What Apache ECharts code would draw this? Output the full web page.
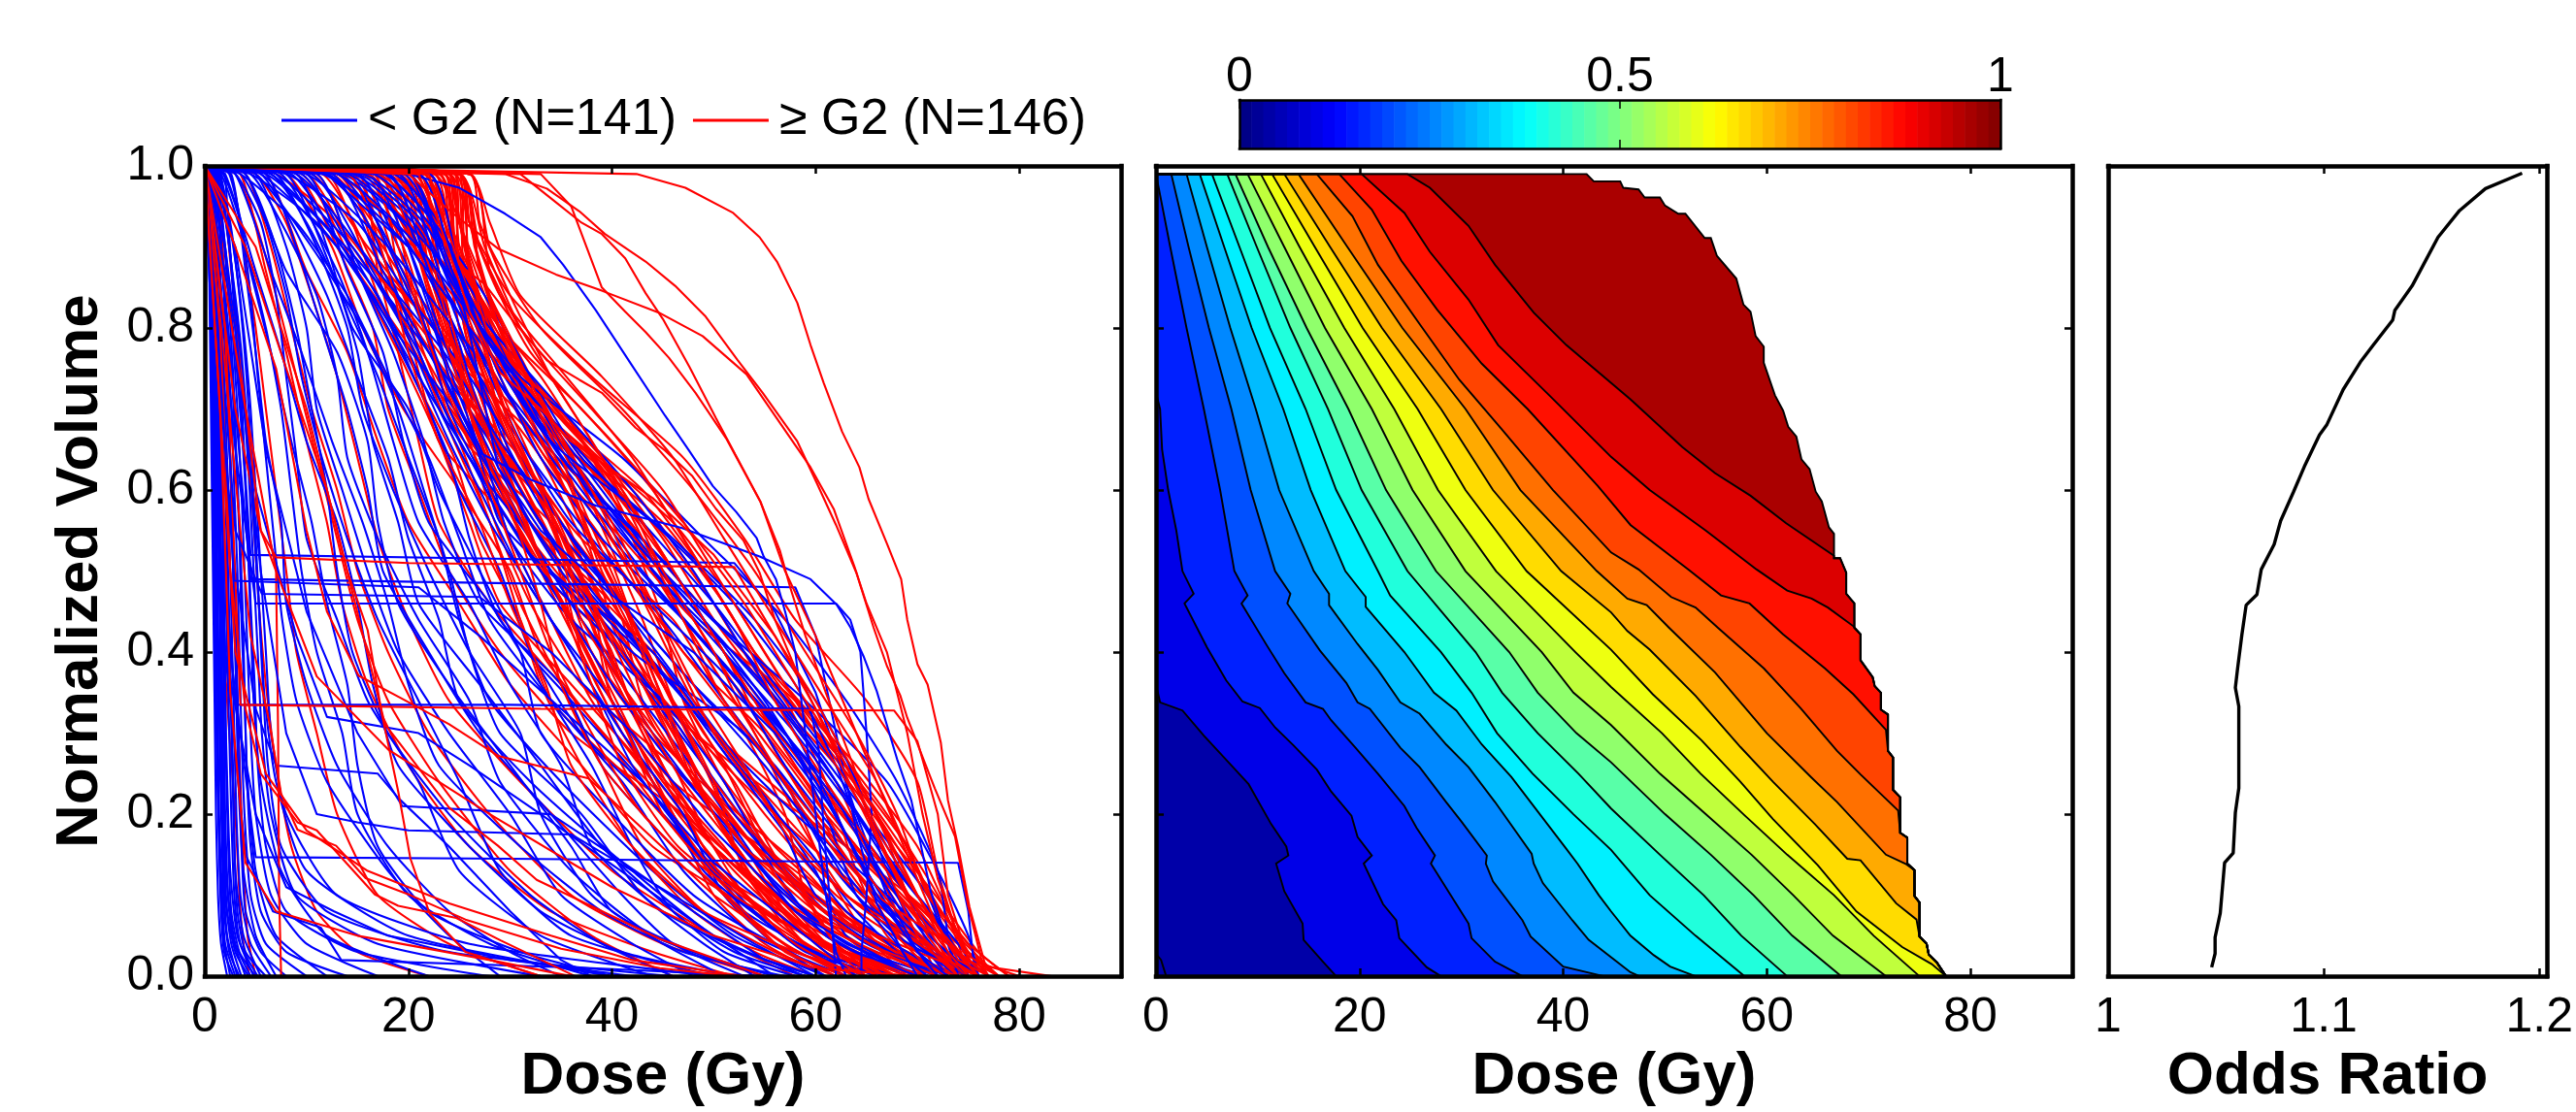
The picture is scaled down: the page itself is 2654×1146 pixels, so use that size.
<!DOCTYPE html>
<html><head><meta charset="utf-8"><style>html,body{margin:0;background:#fff}#c{width:2654px;height:1146px}</style>
<script src="https://cdn.jsdelivr.net/npm/echarts@6/dist/echarts.min.js"></script></head><body><div id="c"></div><script>
const blueName='< G2 (N=141)', redName='\u2265 G2 (N=146)';
// volume levels for the rows below; each row lists the dose at which the curve reaches that level
const volumeLevelsA=[.99,.9,.8,.7,.6,.5,.4,.3,.2,.1,.04,0];
const volumeLevelsB=[.99,.93,.84,.74,.64,.54,.44,.34,.24,.13,.05,0];
const volumeLevelsC=[.99,.87,.77,.66,.56,.46,.36,.26,.16,.08,.03,0];
const blueRows=[
[.2,.4,.5,.6,.7,.8,.9,1,1.1,1.3,1.6,2.2],[.2,.4,.6,.7,.8,.9,1,1.1,1.3,1.5,1.8,2.5],[.3,.5,.6,.8,.9,1,1.1,1.2,1.4,1.6,1.9,2.8],[.3,.5,.7,.8,1,1.1,1.2,1.3,1.4,1.7,2,3],[.3,.6,.8,.9,1,1.2,1.3,1.4,1.6,1.8,2.2,3.2],[.4,.6,.8,1,1.1,1.2,1.4,1.5,1.7,1.9,2.4,3.4],[.4,.7,.9,1.1,1.2,1.4,1.5,1.6,1.8,2,2.6,3.6],[.4,.7,1,1.1,1.3,1.5,1.6,1.7,1.8,2.1,2.7,4],[.5,.8,1,1.2,1.4,1.5,1.7,1.8,1.9,2.2,3,4.3],[.5,.8,1.1,1.3,1.5,1.6,1.8,1.9,2,2.3,3,4.5],[.5,.9,1.2,1.4,1.6,1.8,1.9,2,2.2,2.5,3.2,4.8],[.6,1,1.3,1.5,1.7,1.9,2,2.1,2.3,2.6,3.4,5],[.6,1,1.4,1.6,1.8,2,2.2,2.4,2.6,2.9,3.5,5.2],[.6,1.1,1.5,1.7,2,2.2,2.4,2.6,2.8,3,3.8,5.5],[.7,1.2,1.6,1.9,2.1,2.3,2.5,2.7,2.9,3.2,4,6],[.7,1.3,1.7,2,2.3,2.5,2.7,2.9,3.1,3.5,4.5,6.5],[.8,1.4,1.9,2.2,2.5,2.7,2.9,3.1,3.3,3.8,5,7],[.8,1.5,2,2.4,2.7,3,3.2,3.4,3.6,4,5.5,8],[.9,1.6,2.1,2.6,2.9,3.2,3.4,3.6,3.9,4.5,6,10],[.9,1.7,2.3,2.8,3.1,3.4,3.6,3.9,4.2,5,7,12],[1,1.8,2.5,3,3.4,3.7,3.9,4.1,4.5,5.5,8,14],[1,2,2.7,3.2,3.6,3.9,4.2,4.5,5,6.5,10,17],[1.1,2.1,2.9,3.5,3.9,4.2,4.5,4.8,5.5,7.5,12,22],[1.2,2.2,3,3.7,4.2,4.5,4.9,5.2,6,8,15,28],[1.2,2.4,3.2,3.9,4.4,4.8,5.2,5.6,6.5,9,17,33],[1.3,2.5,3.4,4.1,4.6,5,5.4,5.9,7,10,20,40],[1.4,2.7,3.6,4.3,4.8,5.3,5.7,6.2,7.5,12,24,46],[1.5,2.8,3.8,4.5,5,5.5,6,6.5,8,13,26,50],
[1.8,3.5,4.5,5.2,6,6.8,7.6,9,12,18,24,29],[2.6,4,5,6,7.5,8,10,13,18,24,30,35],[1.6,4,6,7.5,8.5,9.5,11,13.5,15,20,28,38],[3,5.5,7,8,9,10,13,16,21,25,33,44],[2.4,4.5,6.5,8.5,10.5,12,14,15,17,22,31,40],[4,7,9,10.5,12,13,14.5,18,24,32,39,46],[3.5,6,8,9.5,11.5,14,17,21,25,29,36,50],[2,5,7.5,10,13,15,16.5,19,26,33,41,52],[5,8,10,11,13.5,16,19,24,30,35,42,48],[4.5,7.5,11,13,14,17,21,26,29,36,44,55],[3,6.5,9.5,12.5,15.5,18,20,23,31,39,47,57],[6,9,11.5,14,16,17.5,22,27,34,41,46,53],[5.5,8.5,12,15,18,20,23,25,32,42,50,59],[4,8,13,16,17,19,24,30,36,40,48,56],[7,11,14,15.5,18.5,22,26,31,33,38,45,51],[6.5,10,13.5,17,20,23,25,28,35,44,52,61],[8,12.5,15,16.5,19,21,27,33,39,46,51,58],[5,10.5,15.5,19,21.5,24,26,29,37,43,49,54],[3.5,9,14,18,22,25,28,34,41,47,54,63],[7.5,13,16,18.5,21,26,30,35,38,45,53,60],[9,12,14.5,20,23,27,31,33,40,48,56,65],[6,11.5,17,20.5,24,26,29,36,43,50,55,62],[10,14,17.5,19.5,22,28,33,38,42,46,52,59],[8.5,13.5,18,22,25,29,32,37,45,52,58,66],[4.5,11,16.5,21,26,30,34,40,44,49,57,64],[11,15,18.5,21.5,23.5,27,35,39,46,53,60,68],[7,14.5,19.5,23,27,31,36,41,47,51,56,61],[12,16,19,22,26,32,37,43,49,55,62,70],[9.5,15.5,20,24,28,33,38,42,48,54,59,67],[5.5,13,18.5,24.5,29,34,39,44,50,57,63,72],[13,17,20.5,23.5,27.5,30,36,45,51,56,61,69],
[10.5,16.5,21,25,30,35,40,46,53,58,64,71],[14,18,21.5,24,28,33,41,47,52,59,65,73],[8,15,20,26,31,36,42,48,54,60,63,70],[12.5,17.5,22,26.5,29,37,43,49,55,61,67,74],[15,19,22.5,25,29.5,34,44,50,56,60,66,72],[11.5,18.5,23,27,32,38,45,51,57,62,68,75],[6.5,16,22,28,33,39,46,52,58,63,69,73],[16,20,23,26,30,35,42,53,59,64,70,76],[13.5,19.5,24,28.5,34,40,47,54,60,65,69,74],[9,17,23.5,29,35,41,48,55,61,66,71,75],[17,21,24.5,27,31,36,43,50,58,67,72,76],[14.5,20.5,25,30,36,42,49,56,62,68,73,75],[18,22,25,28,32,38,46,52,59,64,68,71],[10,18,24.5,31,37,43,50,57,63,69,72,76],[15.5,21.5,25.5,29,33,39,47,54,61,66,70,74],[19,23,26,29.5,34,41,48,56,62,67,71,73],[12,20,26,32,38,44,51,58,64,70,74,76],[16.5,22,26.5,30.5,35,42,49,55,60,65,69,72],[20,23.5,27,31,36,44,52,57,63,68,72,75],[13,21,27,33,39,45,53,59,65,71,73,76],[17.5,22.5,27.5,32,37,46,54,60,64,67,70,74],[20,24,28,34,40,47,55,61,66,70,74,77],[14,22,28,35,42,48,53,58,62,66,71,75],[18.5,23,26,30,35,43,50,59,67,72,75,76],[19.5,24,28.5,36,43,50,56,62,67,71,74,76],[21,24,27,33,38,46,51,57,61,64,68,70],[15,21,25,31,41,49,57,63,68,72,73,74],[22,25,28,34,44,52,58,62,65,69,72,75]];
const redRows=[
[.5,.7,.9,1,1.2,1.5,1.9,2.4,3,3.4,3.8,4.4],[1,1.6,2,2.3,2.5,2.7,2.9,3.2,3.5,3.8,4.2,5],[1.5,2.6,3.5,4.2,4.8,5.3,6,7,8.5,11,15,22],[2.5,3.8,5,6,7,8,9,11,13,17,24,33],[3,5,7,9,11,13,15,18,23,30,38,46],[3.5,6,8,10,12,13.5,16,20,26,34,44,52],[4,6.5,8.5,10.5,13,15,18,22,28,36,45,55],[5,8,10.5,13,15,17,20,24,31,40,50,58],
[6,10,14,17,20,25,30,37,44,54,60,66],[9,13,16.5,18,21,24,29,36,47,56,64,70],[12,14.5,17,20.5,24.5,27,31,34,42,50,61,69],[15,17,19,21,23,28,35,42,50,57,62,67],[8,12.5,15.5,19.5,25,30,33,39,45,53,59,65],[18,20,22,24,27,30,34,38,44,51,57,63],[11,15,19,23,26,29,36,43,48,55,63,71],[21,22.5,24,26,29,33,37,41,47,52,58,64],[13,16,18,22,27.5,32,38,40,46,58,66,72],[16.5,19,21.5,25,28,31,35,39,43,49,56,62],[10,14.5,20,24.5,29,34,41,47,52,60,67,73],[19,21,23.5,25.5,27,31.5,36,40,45,53,60,68],[14,18,20.5,23,30,35,39,44,51,56,62,66],[22,23.5,25,27.5,30.5,33.5,38,42,46,50,55,61],[7,13,18.5,24,31,36,40,45,49,59,65,74],[17,20,22.5,26,28.5,32,37,46,54,61,68,75],[24,24.5,25.5,28,31,36,42,46,50,55,59,65],[12.5,16.5,21,27,33,37,41,43,48,54,63,70],[20,22,24.5,26.5,32,38,43,47,53,57,61,67],[15.5,19.5,22,24,29.5,34,44,49,55,62,69,76],[23,24,26,29,33,39,42,45,49,56,64,72],[9.5,15,20.5,25.5,34,40,45,50,56,63,67,71],[18.5,21.5,24,28,30,35,38,44,52,60,66,73],[21.5,23,25,27,31,37,46,51,57,61,65,69],[11.5,17,23,28.5,35,41,44,48,54,59,68,74],[16,20.5,23.5,26,32.5,36,39,43,47,55,60,64],[24.5,25,27,30,36,42,47,52,58,64,70,75],[14.5,18.5,22,29,34.5,38,40,46,50,58,62,68],[19.5,22,24,26.5,29,33,41,48,56,65,71,76],[22.5,24,26.5,31,37,43,48,53,59,66,72,77],[13.5,17.5,25,30,35.5,39,46,51,55,60,65,70],[17.5,21,23,27,31.5,35,37,41,46,51,57,63],[20.5,23,25.5,29.5,38,44,49,54,60,67,73,78],[23.5,24.5,26,28.5,32,40,45,49,53,62,69,74],[10.5,16,22.5,30.5,36.5,42,47,55,61,68,72,75],[18,22.5,27,32,39,45,50,56,62,66,70,72],[15,19,21,24.5,28,30.5,33,37,42,48,54,60],[25,25.5,27.5,31.5,40,46,51,57,63,69,74,78],[21,23.5,26,29,33.5,41,48,58,64,70,73,76],[12,19,24,33,41,47,52,59,65,68,71,75],[24,25,28,33,42,48,53,60,66,71,75,77],[16.5,21,25,28,30,34,36,40,45,52,59,66],[19,22,24.5,28,35,39,43,52,63,71,74,76],[22,24.5,28.5,34,43,49,54,61,67,72,74,75],[14,20,26,31,37,43,50,57,61,64,67,72],[23,25,29,35,44,50,55,62,68,73,76,79],[20,23.5,25,27.5,31,36.5,44,50,59,65,69,73],[17,22,26.5,33,38,42,45,47,51,57,66,74],[24.5,25.5,29,36,45,51,56,63,69,72,75,77],[13,20.5,27,35,40,44,49,54,58,63,70,76],[21.5,24,27,30,34,37.5,40,44,48,54,61,68],[25,26,29.5,37,46,52,57,64,70,73,75,78],[18.5,23,27.5,34.5,41,46,51,55,60,68,72,74],[23.5,25,28,32,36,39.5,43,46,50,53,58,65],[16,22,28,36,43,48,53,58,64,70,73,75],[22,24,26,30.5,35.5,41,47,53,57,59,62,67],[25,26,30,38,47,53,58,65,70,72,74,76],[20,23,25,28.5,33,38,41,45,49,55,63,71],[19,24,29,37,44,49,54,60,66,69,71,73],[24,25,27.5,31,35,38.5,42,45,48,54,60,66],
[14,18,20,23,27,30,33.5,36,42,49,58,64],[16,19,21.5,24.5,28,31,34,38,43,51,56,62],[18,20.5,23,25.5,29,32,36,40,44,50,59,67],[17,21.5,24,27,30.5,33,35,39,46,53,57,63],[20,22,24,26,29.5,33.5,37.5,41.5,45,52,61,69],[19,22.5,25,27.5,31,34.5,37,42,47,54,60,65],[21,23,25,28,31.5,35,38,41,46.5,55,63,70],[20.5,23.5,26,29,33,36,40,43,48,53,58,64],[22,24,26,28.5,32,35.5,39,44,49,56,64,71],[21.5,24,26.5,30,34,37,41,45,50,58,66,72],[23,24.5,27,29.5,33,36.5,40.5,44.5,51,59,62,66],[22.5,25,27,31,35,38,42,46,52,57,65,73],[24,25,27.5,30.5,34.5,38,41,47,53,60,67,74],[23.5,25.5,28,32,36,39,43,46.5,50,55,61,68],[25,26,28,31.5,35.5,40,44,48,54,62,69,75],[24.5,26,28.5,33,37,41,45,49,55,61,70,76],[25,26.5,29,33.5,38,42,46,50,56,63,71,74],
[26,27,30,34,39,43,47,51,57,64,68,72],[25,27,30.5,35,40,44,48,53,58,65,72,76],[25,27.5,31,36,41,45,50,54,59,66,73,77],[24,26,29,35.5,42,47,52,56,61,67,70,74],[25,27,30,37,43,48,53,58,63,68,72,75],[25,27,31,38,45,50,55,60,65,69,73,76],[26,28,31,39,46,51,56,61,66,70,74,78],[26,28,32,40,47,53,58,63,67,71,74,77],[26,28,33,41,48,54,59,64,68,71,75,79]];
// curves with a jump, a long plateau or a course off the main band: dose, volume, dose, volume ...
const blueTraces=[
[0,1,2,.99,3,.8,4.5,.52,30,.515,52,.51,56,.45,60,.35,64,.2,67,.1,70,.03,72,0],
[0,1,1.5,.9,3,.7,4.5,.49,30,.485,58,.48,60,.42,62,.3,64,.18,66,.09,69,.02,71,0],
[0,1,1.2,.9,3,.65,5,.46,30,.46,62,.46,63.4,.44,64.4,.4,65,.3,65.5,.2,65,.1,64.5,.03,64.5,0],
[0,1,1,.8,2,.5,3,.335,30,.335,59.5,.33,60.3,.28,60.8,.18,61.5,.08,62,0],
[0,1,.8,.8,2.5,.4,5,.147,30,.145,74,.14,75,.08,75.5,.02,76,0],
[0,1,1,.8,3,.5,5,.33,7,.26,17,.25,19,.22,24,.16,30,.08,35,.02,38,0],
[0,1,2,.9,5,.6,9,.42,12,.32,21,.3,26,.26,33,.2,42,.12,50,.05,56,0],
[0,1,3,.9,6,.65,10,.45,15,.3,19.4,.21,34,.2,40,.15,48,.08,55,.02,60,0],
[0,1,1,.7,2,.4,4,.15,6.7,.08,11.4,.06,13.4,.02,38,.01,55,0],
[0,1,1,.7,2,.4,5,.2,8,.11,12.7,.08,18,.05,30,.02,42,0],
[0,1,1.5,.8,3,.55,5.6,.472,27,.468,34,.4,42,.3,50,.18,58,.08,66,.02,70,0],
[0,1,1.2,.8,2.9,.488,21,.48,27,.42,35,.33,43,.24,50,.14,58,.06,64,0],
[0,1,3,.8,5.5,.5,8,.3,11,.2,15,.19,20,.18,36,.175,46,.1,54,.04,60,0],
[0,1,20,.99,25,.973,29.5,.941,33,.912,35.2,.878,38.4,.822,41.9,.755,45.2,.692,47.6,.648,49.9,.605,52.2,.573,54.2,.541,54.9,.518,56.1,.49,57,.45,58,.4,59,.3,60,.2,61,.1,62,.03,63,0],
[0,1,12,.99,20,.9,24,.75,27.2,.645,32,.613,38.4,.581,46.9,.553,54.5,.518,59.5,.49,62.1,.458,63.4,.431,64.7,.395,66,.352,68,.268,69.4,.217,71.3,.105,73.5,.02,75,0],
[0,1,18,.99,22.4,.934,25,.847,26,.795,28.8,.628,33,.55,40,.47,48,.4,56,.3,62,.2,66,.1,70,.03,73,0]];
const redTraces=[
[0,1,2,.8,3.5,.335,33,.33,67.7,.328,70,.29,72,.2,73,.1,75,.02,78,0],
[0,1,3,.8,5.5,.55,7,.517,20,.51,52,.505,56,.42,60,.33,64,.22,68,.12,71,.05,74,0],
[0,1,1,.9,3,.7,5.5,.55,7,.5,7.2,.3,7.3,.1,7.5,0],
[0,1,2,.75,3.5,.55,4.5,.42,6.3,.316,7.5,.225,9.1,.181,12.9,.161,15.8,.121,20.2,.1,25.6,.07,35,.034,44.7,.01,52,0],
[0,1,1.5,.8,2.5,.5,4,.33,5.5,.25,9.1,.19,11,.18,16.7,.101,19,.087,24.7,.072,29.1,.044,36.4,0],
[0,1,4,.9,8,.75,12,.6,14,.5,16,.427,17.4,.323,19,.228,20.2,.145,22.1,.077,25.6,.03,33,0],
[0,1,3,.9,7,.75,10,.55,12,.45,15.1,.371,19.3,.343,24,.311,28.8,.272,37.7,.244,50,.1,58,.03,65,0],
[0,1,5,.9,10,.7,13,.55,17.7,.311,24,.208,28.8,.161,32.6,.119,44.7,.046,55,0],
[0,1,42.4,.99,47.2,.973,51.9,.942,54.5,.912,56.2,.882,58.2,.831,59.5,.779,60.8,.732,62.6,.672,64.3,.628,65.2,.589,67,.534,68.4,.49,69,.44,70,.385,71,.36,72.3,.288,73,.217,74,.16,75.1,.086,76.7,.012,83.2,0],
[0,1,29.5,.99,33.6,.972,36.8,.944,39.3,.916,43.3,.882,46.2,.852,49.2,.814,52.3,.761,54.8,.72,58.2,.66,60.1,.609,62,.557,64,.498,65.7,.43,67,.383,68.3,.347,69,.319,71.7,.232,73.7,.172,75,.086,76.4,.015,80,0],
[0,1,31,.99,34,.96,37,.93,39,.916,41.3,.886,43.3,.843,45,.811,47.6,.752,50.2,.689,52.1,.644,54.6,.585,56.5,.525,57.5,.48,59,.42,61,.35,64,.25,67,.17,70,.1,73,.03,75,0],
[0,1,33,.99,36,.95,39,.85,41.3,.82,43.3,.795,45.6,.763,48.2,.72,51.2,.664,54.6,.585,57,.5,60,.42,63,.33,66,.24,69,.15,72,.06,76,0],
[0,1,20,.99,24.4,.941,28.8,.898,34.5,.866,39,.846,44.6,.819,48.9,.79,53.2,.743,59.5,.628,61.8,.576,63.8,.506,65,.46,67,.4,69,.3,70.5,.2,72,.12,74.5,.03,78,0],
[0,1,22,.99,25,.878,27.5,.854,30.4,.807,33.6,.76,36.8,.736,39,.72,42.3,.677,45.2,.649,47.9,.617,50.2,.577,52.9,.538,54.5,.498,56,.44,58,.38,60,.33,63,.26,67,.15,70,.08,73,.02,76,0],
[0,1,21,.99,23,.93,26,.82,29,.745,33,.7,36,.66,44,.59,50,.52,56,.42,60,.34,66,.2,70,.1,74,.02,77,0],
[0,1,2,.6,3,.4,6,.25,10,.18,16,.13,24,.09,34,.05,42,.02,53,0],
[0,1,1.5,.7,2.5,.35,4,.14,7,.08,15,.05,28,.02,36,0],
[0,1,4,.7,7,.5,11,.37,18,.28,28,.2,40,.11,50,.05,60,.01,70,0]];
// filled contour outlines on the dose-volume plane, outermost first: dose, volume, dose, volume ...
const regionEdge=[0,.99,42.3,.99,43,.981,45.6,.981,45.9,.973,47.4,.971,48,.961,49.5,.961,50,.951,51.3,.941,52,.941,53.9,.911,54.5,.911,55.1,.889,57,.861,57.7,.829,58.4,.82,58.9,.79,59.7,.777,59.7,.757,60.8,.717,61.6,.698,62.1,.678,62.9,.666,63.4,.638,64.2,.626,64.8,.598,65.4,.586,66.1,.554,66.6,.546,66.6,.516,67.2,.516,67.8,.498,67.8,.472,68.6,.46,68.6,.43,69.2,.422,69.2,.39,70.4,.369,70.6,.358,71.2,.35,71.2,.329,71.9,.323,71.9,.278,72.4,.27,72.4,.23,73.1,.221,73.1,.177,73.8,.171,73.8,.139,74.5,.131,74.5,.099,75,.091,75,.049,75.7,.04,75.9,.027,76.7,.017,77.6,0,83.3,0];
const contourA=[0,.99,24.7,.99,26.9,.973,30.7,.926,33.3,.878,37.1,.819,40.3,.779,46.6,.712,51.7,.653,54.9,.621,58.4,.593,61.9,.559,66.6,.519];
const contourB=[0,.99,20.2,.99,24.4,.942,26.9,.894,30.7,.835,33.6,.779,38.7,.716,44.7,.641,48.5,.6,54,.55,59,.502,62,.476,64.4,.466,66,.455,68.5,.432];
const contourC=[0,.99,18,.99,21.2,.946,24.1,.883,27.6,.823,32,.756,36.5,.7,43.4,.605,46.6,.557,52.3,.502,55.5,.47,58.3,.46,61.6,.422,65.7,.38,68.5,.348,71.7,.304];
const contourD=[0,.99,15.8,.99,19.3,.938,21.8,.878,26,.803,29.8,.736,33.9,.676,39,.6,44.7,.523,47.4,.502,50.6,.468,53,.455,55.2,.43,59.7,.38,63.3,.331,66.9,.278,69.2,.249,72.9,.2045];
const contour12=[0,.99,14,.99,18.8,.9,24.2,.8,30.4,.7,35.8,.6,43.3,.5,46.3,.466,48.2,.458,50.4,.43,54.9,.375,60,.3,64.4,.245,66.9,.215,71.7,.15,73.6,.139];
const contour11=[0,.99,12.6,.99,17.1,.9,22.2,.8,28,.7,33.1,.6,39.8,.5,44.7,.449,46.3,.426,48.5,.403,53,.346,57.4,.283,60.6,.24,64.7,.188,67.9,.145,69.2,.143,72.7,.09,74.7,.07];
const contour10=[0,.99,11.4,.99,15.6,.9,20.3,.8,25.7,.7,30.4,.6,36.4,.5,44.7,.403,48.8,.348,53.6,.291,57.4,.24,60.6,.194,65,.137,68.8,.08,73.3,.036,76.2,.015];
const contour9=[0,.99,10.3,.99,14.1,.9,18.5,.8,23.4,.7,27.7,.6,33.4,.5,41.2,.4,44.7,.357,49.7,.3,53.5,.25,57.7,.2,62,.15,66.6,.1,70.5,.05,75,0];
const contour8=[0,.99,9,.99,12.6,.9,16.6,.8,21.2,.7,25.2,.6,30.4,.5,37.9,.4,41,.35,44.7,.31,49.5,.25,54,.2,58.5,.15,62.6,.1,66.5,.05,71.7,0];
const contour7=[0,.99,7.8,.99,11,.9,14.8,.8,18.9,.7,22.6,.6,27.5,.5,34.7,.4,37.5,.35,41.3,.3,44.7,.264,50,.2,54.5,.15,58.7,.1,62.5,.05,67.3,0];
const contour6=[0,.99,7,.99,9.9,.9,13.2,.8,16.9,.7,20.2,.6,24.7,.5,31.4,.4,34,.35,37.5,.3,41.5,.25,44.7,.207,49.5,.15,53.8,.1,57.5,.05,62,0];
const contour5=[0,.99,5.5,.99,8.2,.9,11.2,.8,14.7,.7,17.7,.6,21.8,.5,23,.47,28,.4,31,.35,33.5,.3,37,.25,41,.2,44.7,.156,48.5,.1,53,.05,57.8,0];
const contour4=[0,.99,4.3,.99,6.7,.9,9.4,.8,12.5,.7,15.2,.6,18.6,.5,20.6,.468,20.6,.456,24.4,.4,27.3,.35,29.5,.328,32,.286,34.9,.246,40.2,.159,41.4,.139,43.5,.1,44.7,.08,46.6,.05,48.9,.026,50.5,.012,53,0];
const contour3=[0,.99,3,.99,5,.9,7.3,.8,9.8,.7,12.1,.6,15.5,.5,17,.472,17,.458,19.8,.41,21.8,.378,24,.338,25.9,.324,28.5,.286,30.7,.258,33.3,.215,36.9,.151,37.1,.139,38,.115,40.9,.069,42.5,.045,46.6,.005,47.5,0];
const contour2=[0,.99,1.5,.99,3.2,.9,5.2,.8,7.4,.7,9.3,.6,11.7,.5,13.2,.472,12.9,.46,16.1,.402,18.7,.362,19.8,.338,21,.33,24,.282,25.9,.258,28.5,.215,30,.191,32.5,.149,32.4,.139,33.1,.117,36,.069,36.8,.049,40,.012,44,0];
const contour1=[0,.99,1.4,.9,3,.8,4.7,.7,6.3,.6,7.7,.5,9,.47,8.4,.46,10.9,.408,12.6,.374,14.7,.338,16.4,.33,17.2,.316,19.6,.282,21.8,.25,24.4,.21,25.6,.183,27.4,.149,27,.139,29.5,.089,30.7,.065,31,.047,33.3,.018,36,0];
const contour0=[0,.72,.4,.7,.6,.65,1.2,.6,2,.55,2.6,.5,3.7,.472,2.8,.46,5,.406,6.9,.365,8.5,.339,10.2,.331,11.7,.307,13.5,.285,15.8,.255,17.2,.228,19.2,.198,19.8,.172,21.2,.149,20.4,.139,22.3,.089,23.6,.069,23.9,.047,26.6,.011,28,0];
const contourLow=[0,.36,.4,.338,2.6,.328,4.7,.297,7.5,.259,9.1,.237,11.3,.188,12.8,.16,13,.149,11.8,.139,12.6,.105,14.4,.065,14.5,.045,16.4,.018,17.7,0];
const contourCorner=[0,.028,.5,.02,1,0];
const regionOrder=[regionEdge,contourA,contourB,contourC,contourD,contour12,contour11,contour10,contour9,contour8,contour7,contour6,contour5,contour4,contour3,contour2,contour1,contour0,contourLow,contourCorner];
const regionColors=['#aa0000','#dc0000','#ff1000','#ff4400','#ff7000','#ffaa00','#ffdc00','#eeff10','#c0ff3c','#90ff6c','#58ffa8','#20ffdc','#00f0ff','#00bcff','#0088ff','#0050ff','#0020ff','#0000e8','#0000a8','#0000a8'];
const oddsRatio=[1.192,1.175,1.163,1.153,1.148,1.141,1.133,1.132,1.123,1.117,1.109,1.1015,1.098,1.091,1.086,1.08,1.077,1.071,1.069,1.064,1.062,1.06,1.059,1.0606,1.0606,1.059,1.058,1.054,1.052,1.0496,1.0496,1.048];
const oddsVolume=[.991,.972,.945,.912,.887,.852,.822,.81,.779,.758,.724,.681,.668,.629,.598,.562,.533,.502,.471,.458,.421,.379,.356,.333,.232,.202,.152,.14,.078,.048,.028,.011];
const oddsTicks=[1,1.1,1.2];

const FONT='Liberation Sans';
const levelSets=[volumeLevelsA,volumeLevelsB,volumeLevelsC];
const jet=i=>{const t=(i+.5)/64,f=c=>Math.round(255*Math.max(0,Math.min(1,1.5-Math.abs(4*t-c))));return `rgb(${f(3)},${f(2)},${f(1)})`;};
const barColors=Array.from({length:64},(_,i)=>jet(i));
const pairs=a=>{const o=[];for(let i=0;i<a.length;i+=2)o.push([a[i],a[i+1]]);return o;};
const fromRow=(r,k)=>({pts:[[0,1],...r.map((d,i)=>[d,levelSets[k%3][i]])],smooth:.2});
const fromTrace=t=>({pts:pairs(t),smooth:false});
const blueAll=[...blueRows.map(fromRow),...blueTraces.map(fromTrace)];
const redAll=[...redRows.map(fromRow),...redTraces.map(fromTrace)];
const tick={show:true,inside:true,length:8,lineStyle:{color:'#000',width:2.5}};
const line=w=>({show:true,onZero:false,lineStyle:{color:'#000',width:w,cap:'square'}});
const lab={color:'#000',fontSize:50,fontFamily:FONT};
const nameSt={color:'#000',fontSize:62,fontWeight:'bold',fontFamily:FONT};
function xa(grid,pos,min,max,interval,o={}){return Object.assign({type:'value',gridIndex:grid,position:pos,min,max,interval,z:10,axisLine:line(4.5),axisTick:tick,splitLine:{show:false},axisLabel:{show:false}},o);}
function ya(grid,pos,o={}){return Object.assign({type:'value',gridIndex:grid,position:pos,min:0,max:1,interval:.2,z:10,axisLine:line(4.5),axisTick:tick,splitLine:{show:false},axisLabel:{show:false}},o);}
const xLab={show:true,...lab,margin:18,showMaxLabel:false};
const xAxis=[
 xa(0,'bottom',0,90,20,{axisLabel:xLab,name:'Dose (Gy)',nameLocation:'middle',nameGap:72,nameTextStyle:nameSt}),xa(0,'top',0,90,20),
 xa(1,'bottom',0,90,20,{axisLabel:xLab,name:'Dose (Gy)',nameLocation:'middle',nameGap:72,nameTextStyle:nameSt}),xa(1,'top',0,90,20),
 xa(2,'bottom',1,1.2036,.1,{axisLabel:{...xLab,formatter:v=>oddsTicks.includes(+v.toFixed(1))?(v===1?'1':v.toFixed(1)):''},name:'Odds Ratio',nameLocation:'middle',nameGap:72,nameTextStyle:nameSt}),xa(2,'top',1,1.2036,.1),
 xa(3,'top',0,1,.5,{axisLine:line(2.5),axisTick:{...tick,length:9,lineStyle:{color:'#000',width:1.5}},axisLabel:{show:true,...lab,margin:-2,formatter:v=>String(v)}}),
 xa(3,'bottom',0,1,.5,{axisLine:line(2.5),axisTick:{...tick,length:9,lineStyle:{color:'#000',width:1.5}}})];
const yAxis=[
 ya(0,'left',{axisLabel:{show:true,...lab,margin:11,formatter:v=>v.toFixed(1)},name:'Normalized Volume',nameLocation:'middle',nameGap:97,nameRotate:90,nameTextStyle:nameSt}),ya(0,'right'),
 ya(1,'left'),ya(1,'right'),
 ya(2,'left',{axisTick:{show:false}}),ya(2,'right',{axisTick:{show:false}}),
 ya(3,'left',{interval:1,axisLine:line(2.5),axisTick:{show:false}}),ya(3,'right',{interval:1,axisLine:line(2.5),axisTick:{show:false}})];
const series=[];
const n=Math.max(blueAll.length,redAll.length);
const curve=(c,name,col)=>({type:'line',name,xAxisIndex:0,yAxisIndex:0,data:c.pts,smooth:c.smooth,symbol:'none',silent:true,color:col,lineStyle:{color:col,width:2.1}});
for(let i=0;i<n;i++){
 if(redAll[i])series.push(curve(redAll[i],redName,'#ff0000'));
 if(blueAll[i])series.push(curve(blueAll[i],blueName,'#0000ff'));
}
const edgePts=pairs(regionEdge);
regionOrder.forEach((c,k)=>{
 const pts=pairs(c),last=pts[pts.length-1];
 const tail=(k===0||last[1]===0)?[]:edgePts.filter(p=>p[1]<last[1]&&p[0]>=last[0]&&p[0]<78);
 series.push({type:'line',name:'region'+k,xAxisIndex:2,yAxisIndex:2,data:pts.concat(tail),symbol:'none',silent:true,lineStyle:{color:'#000',width:1.9,join:'miter'},areaStyle:{color:regionColors[k],opacity:1}});
});
series.push({type:'line',name:'Odds ratio',xAxisIndex:4,yAxisIndex:4,data:oddsRatio.map((v,i)=>[v,oddsVolume[i]]),symbol:'none',silent:true,lineStyle:{color:'#000',width:3.4}});
series.push({type:'custom',name:'scale',xAxisIndex:6,yAxisIndex:6,silent:true,data:barColors.map((_,i)=>[i/64,(i+1)/64]),
 renderItem:(p,api)=>{const a=api.coord([api.value(0),1]),b=api.coord([api.value(1),0]);return{type:'rect',shape:{x:a[0],y:a[1],width:b[0]-a[0]+.6,height:b[1]-a[1]},style:{fill:barColors[p.dataIndex]}};},encode:{x:[0,1]}});
const chart=echarts.init(document.getElementById('c'),null,{renderer:'canvas'});
chart.setOption({animation:false,backgroundColor:'#fff',textStyle:{fontFamily:FONT},
 grid:[{left:211,top:171,width:944,height:841},{left:1191,top:171,width:944,height:841},{left:2172,top:171,width:455,height:841},{left:1277,top:103,width:784,height:50}],
 legend:{left:285,top:93,selectedMode:false,itemWidth:78,itemHeight:3,itemGap:17,icon:'rect',data:[blueName,redName],textStyle:{color:'#000',fontSize:52,fontFamily:FONT,padding:[0,0,0,6]}},
 xAxis,yAxis,series});
</script></body></html>
